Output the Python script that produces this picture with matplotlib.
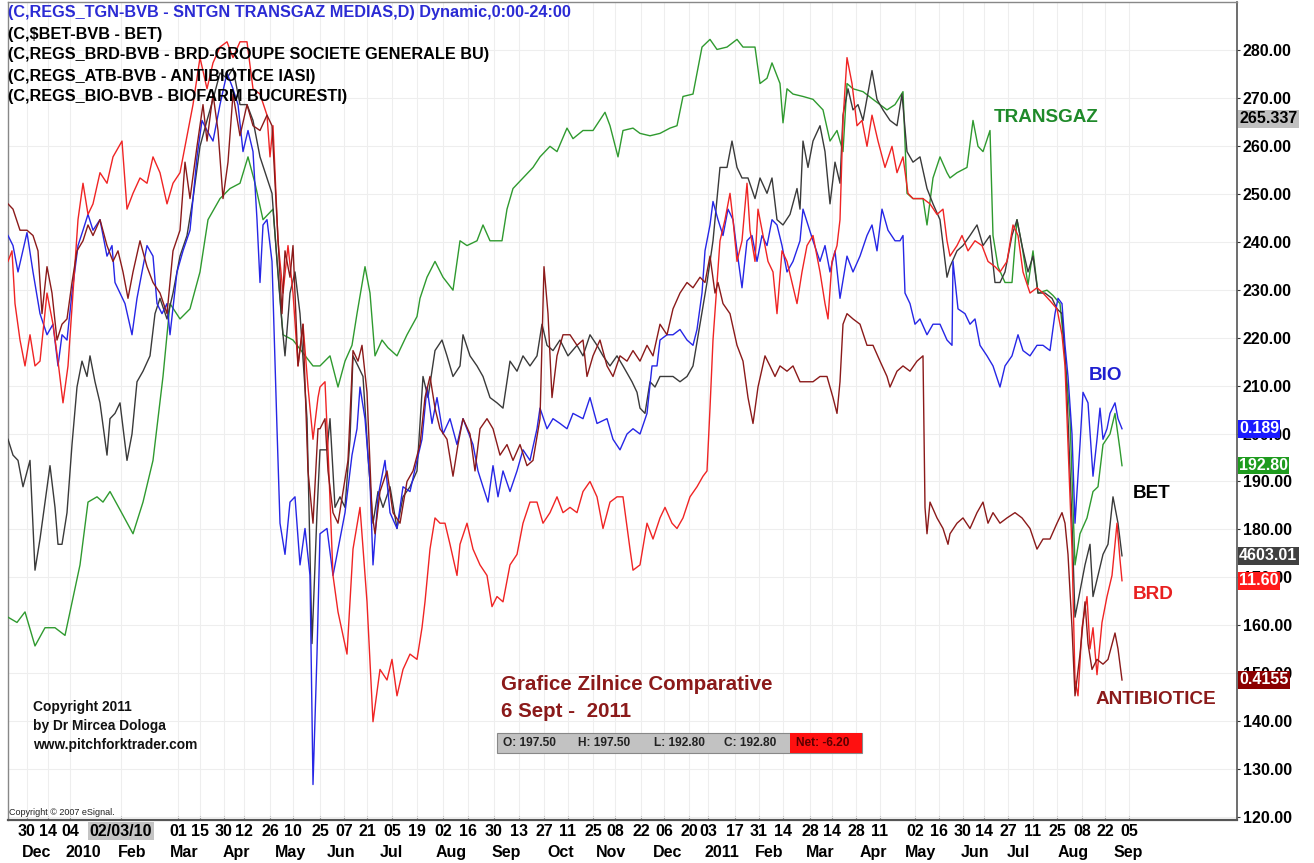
import matplotlib
matplotlib.use("Agg")
import matplotlib.pyplot as plt
from matplotlib.patches import Rectangle
from matplotlib.transforms import blended_transform_factory

plt.rcParams['font.family'] = ['Liberation Sans', 'DejaVu Sans']

# ── Datos (t = semanas aprox. desde fin nov 2009, valores normalizados) ──────
transgaz_t = [0, 0.9, 1.7, 2.7, 3.7, 4.7, 5.7, 6.2, 7.2, 8.0, 8.9, 9.5, 10.2, 11.2, 12.5, 13.5, 14.5, 15.5,
              16.2, 17.2, 18.2, 19.2, 20.0, 21.2, 22.2, 23.2, 24.0, 24.7, 25.5, 26.5, 27.5, 28.5, 30.5,
              31.2, 32.2, 33.0, 33.7, 34.4, 34.9, 35.7, 36.2, 36.7, 37.4, 38.0, 38.9, 39.9, 40.9, 41.2,
              41.9, 42.7, 43.5, 44.5, 45.2, 45.9, 46.9, 47.5, 48.2, 49.4, 49.9, 50.5, 51.5, 52.5, 53.2,
              54.2, 54.9, 55.9, 56.5, 57.5, 58.5, 59.7, 60.2, 61.0, 61.5, 62.5,
              63.2, 64.2, 65.2, 66.2, 66.9, 67.5, 68.5, 69.4, 70.2, 70.9, 71.9, 72.9, 73.5, 74.7, 75.2,
              75.9, 76.4, 77.2, 77.5, 77.9, 78.5, 79.5, 80.5, 81.5, 82.2, 82.9, 83.5, 83.9, 84.5, 85.5,
              86.5, 87.9, 88.7, 89.5, 89.9, 90.5, 91.5, 91.9, 92.5, 93.2, 93.9,
              94.2, 94.9, 95.9, 96.5, 97.0, 97.5, 98.2, 98.5, 99.0, 99.7, 100.4, 100.9, 101.4, 102.0,
              102.5, 103.0, 103.9, 104.5, 105.2, 105.7, 106.2, 106.7, 107.2, 107.9, 108.5, 109.0, 109.5,
              110.2, 110.7, 111.2, 111.4]
transgaz = [161.7, 160.6, 162.8, 155.7, 159.5, 159.5, 157.9, 162.8, 172.6, 185.7, 186.8, 185.7, 187.9, 184.1,
            179.1, 185.7, 194.4, 211.9, 227.1, 223.9, 226.0, 233.7, 244.6, 249.0, 251.1, 252.2, 257.7, 252.2,
            244.6, 246.8, 220.6, 219.5, 214.1,
            214.1, 216.2, 209.7, 215.1, 218.4, 225.0, 234.8, 229.3, 216.2, 219.5, 217.9, 216.2, 220.6, 224.4,
            228.2, 232.6, 235.9, 232.6, 229.9, 240.2, 239.2, 240.2, 243.5, 240.2, 240.2, 246.8, 251.1, 253.3,
            255.5, 257.7, 259.9, 258.8, 263.7, 261.5, 263.2, 263.2, 267.0, 264.2, 257.7, 263.2, 263.7,
            262.6, 262.1, 262.6, 263.7, 264.2, 270.3, 270.8, 280.6, 282.2, 280.1, 280.6, 282.2, 280.6, 280.6,
            273.0, 274.1, 277.3, 273.0, 264.8, 271.9, 270.8, 270.3, 269.7, 267.5, 261.0, 263.2, 258.8, 273.0,
            271.9, 271.3, 269.7, 267.5, 268.6, 271.3, 250.1, 249.0, 249.0, 243.5, 253.3, 257.7, 254.4,
            253.3, 254.4, 255.5, 265.3, 259.9, 258.8, 263.2, 241.3, 234.8, 231.5, 231.5, 244.6, 239.2, 231.0,
            238.1, 229.3, 229.9, 228.8, 227.1, 216.2, 203.1, 172.6, 179.1, 182.4, 187.9, 188.9, 197.7, 199.9,
            204.2, 196.6, 193.3]

bio_t = [0, 0.5, 1.0, 1.9, 2.5, 3.2, 3.9, 4.5, 5.0, 5.4, 5.9, 6.4, 7.0, 7.5, 8.0, 8.5, 9.2, 9.9, 10.4, 10.7,
         11.2, 11.7, 12.4, 12.9, 13.4, 13.9, 14.5, 14.9, 15.4, 15.9, 16.2, 16.9, 17.5, 18.2, 18.9, 19.4,
         19.9, 20.5, 21.2, 21.9, 22.5, 23.0, 23.5, 24.0, 24.5, 24.9, 25.2, 25.5, 25.9, 26.4, 26.9, 27.2,
         27.7, 28.2, 28.7, 29.2, 29.7, 30.2, 30.5, 30.9,
         31.2, 31.9, 32.5, 33.0, 33.7, 34.4, 34.9, 35.2, 35.7, 36.2, 36.5, 37.0, 37.7, 38.2, 38.9, 39.5,
         40.2, 40.9, 41.4, 41.9, 42.4, 42.9, 43.5, 44.2, 44.9, 45.5, 46.5, 47.0, 47.5, 48.0, 48.5, 49.0,
         49.5, 50.2, 50.9, 51.5, 52.2, 52.9, 53.2, 53.9, 54.5, 55.2, 55.9, 56.5, 57.5, 58.2, 58.9, 59.9,
         60.5, 61.2, 61.9, 62.5,
         63.2, 63.9, 64.4, 64.9, 65.2, 65.9, 66.5, 67.2, 67.9, 68.5, 68.9, 69.4, 69.7, 70.2, 70.5, 71.0,
         71.5, 72.0, 72.5, 72.9, 73.4, 73.9, 74.4, 74.9, 75.4, 75.9, 76.4, 76.9, 77.4, 77.9, 78.5, 79.2,
         79.5, 80.0, 80.5, 81.2, 81.7, 82.2, 82.7, 83.2, 83.9, 84.5, 85.2, 85.9, 86.4, 86.9, 87.4, 88.0,
         88.7, 89.2, 89.5, 89.7, 90.2, 90.7, 91.2, 91.9, 92.5, 93.2, 93.9, 94.4,
         94.5, 95.0, 95.7, 96.2, 96.7, 97.2, 97.9, 98.5, 99.2, 99.7, 100.4, 101.0, 101.5, 102.2, 102.9,
         103.5, 104.2, 104.7, 105.0, 105.4, 105.7, 106.0, 106.4, 106.7, 107.2, 107.5, 108.0, 108.5,
         108.9, 109.2, 109.5, 109.9, 110.2, 110.7, 111.0, 111.4]
bio = [241.3, 239.2, 233.7, 241.9, 233.7, 225.0, 220.6, 222.8, 214.1, 220.6, 219.5, 229.3, 239.2, 242.4,
       245.7, 242.4, 244.6, 237.0, 239.2, 231.5, 229.3, 227.1, 220.6, 228.2, 233.7, 239.2, 237.0, 227.1,
       225.0, 227.1, 220.6, 233.7, 238.1, 242.4, 257.7, 265.3, 263.2, 261.0, 268.6, 275.2, 271.9, 268.6,
       258.8, 263.2, 258.8, 244.6, 231.5, 243.5, 244.6, 235.9, 201.0, 181.3, 174.8, 185.7, 186.8, 172.6,
       180.2, 170.4, 126.8, 154.0,
       179.1, 180.2, 170.4, 175.9, 183.5, 195.5, 201.0, 209.7, 203.1, 190.0, 172.6, 186.8, 194.4, 183.5,
       180.2, 188.9, 187.9, 194.4, 198.8, 209.7, 202.1, 207.5, 199.9, 203.1, 197.7, 203.1, 197.7, 192.2,
       188.9, 185.7, 193.3, 186.8, 192.2, 187.9, 192.2, 196.6, 194.4, 201.0, 205.3, 201.0, 203.1, 202.1,
       201.0, 204.2, 203.1, 207.5, 202.1, 203.1, 198.8, 196.6, 199.9, 201.0,
       199.9, 204.2, 214.1, 214.1, 219.5, 220.6, 220.6, 221.7, 219.5, 218.4, 221.7, 229.3, 238.1, 243.5,
       248.4, 244.6, 241.3, 246.8, 244.6, 238.1, 230.4, 240.2, 241.3, 235.9, 241.3, 239.2, 244.6, 243.5,
       239.2, 233.7, 235.9, 240.2, 246.8, 243.5, 240.2, 235.9, 239.2, 233.7, 238.1, 228.2, 237.0, 233.7,
       237.0, 241.3, 243.5, 238.1, 246.8, 242.4, 240.2, 240.2, 241.3, 229.3, 227.1, 222.8, 223.9, 220.6,
       222.8, 222.8, 219.5, 218.4,
       235.9, 226.0, 225.0, 222.8, 223.9, 218.4, 216.2, 214.1, 209.7, 214.1, 216.2, 220.6, 217.3, 216.2,
       218.4, 218.4, 217.3, 225.0, 228.2, 227.1, 218.4, 211.9, 199.9, 181.3, 197.7, 208.6, 206.4, 191.1,
       198.8, 205.3, 198.8, 201.0, 204.2, 206.4, 203.1, 201.0]

bet_t = [0, 0.5, 1.0, 1.5, 2.2, 2.7, 3.2, 3.7, 4.2, 4.7, 5.0, 5.4, 5.9, 6.4, 6.9, 7.4, 7.9, 8.2, 8.7, 9.2,
         9.9, 10.2, 10.7, 11.2, 11.9, 12.4, 12.9, 13.5, 14.2, 14.7, 15.2, 15.9, 16.5, 17.2, 17.9, 18.5,
         19.2, 19.9, 20.5, 21.2, 21.9, 22.5, 23.2, 23.9, 24.5, 25.2, 25.9, 26.4, 26.9, 27.4, 27.7, 28.2,
         28.7, 29.2, 29.9, 30.4, 30.9,
         31.2, 31.9, 32.2, 32.7, 33.2, 33.7, 34.2, 34.5, 35.0, 35.5, 36.0, 36.5, 37.0, 37.5, 38.2, 38.9,
         39.5, 40.2, 40.9, 41.5, 42.0, 42.7, 43.4, 43.9, 44.5, 45.2, 45.5, 46.2, 46.9, 47.5, 48.2, 48.9,
         49.5, 50.2, 50.9, 51.5, 52.2, 52.9, 53.4, 53.9, 54.5, 55.2, 56.0, 56.9, 57.5, 58.2, 58.9, 59.5,
         60.2, 60.9, 61.5, 62.4, 62.9,
         63.2, 63.7, 64.2, 64.7, 65.2, 65.9, 66.5, 67.2, 67.9, 68.5, 69.2, 69.9, 70.5, 71.2, 71.9, 72.4,
         72.9, 73.4, 74.0, 74.7, 75.2, 75.9, 76.4, 76.9, 77.5, 78.2, 78.9, 79.2, 79.5, 80.0, 80.5, 81.2,
         81.7, 82.2, 82.7, 83.2, 83.5, 84.0, 84.5, 85.0, 85.5, 86.4, 86.9, 87.5, 88.2, 88.9, 89.4, 89.9,
         90.5, 91.2, 91.9, 92.5, 93.2, 93.9,
         94.2, 94.9, 95.5, 96.2, 96.9, 97.5, 98.2, 98.7, 99.2, 99.7, 100.4, 100.9, 101.4, 102.0, 102.5,
         103.0, 103.7, 104.4, 104.9, 105.4, 105.7, 106.0, 106.4, 106.7, 107.2, 107.7, 108.2, 108.5,
         109.0, 109.5, 110.0, 110.5, 111.0, 111.4]
bet = [198.8, 195.5, 194.4, 188.9, 194.4, 171.5, 178.0, 185.7, 193.3, 184.6, 176.9, 176.9, 183.5, 197.7,
       209.7, 215.1, 211.9, 216.2, 210.8, 206.4, 195.5, 203.1, 204.2, 206.4, 194.4, 199.9, 210.8, 213.0,
       216.2, 225.0, 228.2, 223.9, 229.3, 237.0, 241.3, 249.0, 259.9, 265.3, 269.7, 275.2, 274.1, 276.2,
       268.6, 268.6, 265.3, 257.7, 253.3, 250.1, 235.9, 222.8, 216.2, 229.3, 233.7, 225.0, 203.1, 156.2,
       183.5,
       196.6, 196.6, 203.1, 184.6, 186.8, 184.6, 198.8, 216.2, 214.1, 211.9, 195.5, 181.3, 187.9, 184.6,
       188.9, 180.2, 186.8, 188.9, 192.2, 211.9, 207.5, 217.3, 219.5, 216.2, 211.9, 214.1, 220.6, 216.2,
       214.1, 211.9, 207.5, 206.4, 205.3, 215.1, 213.0, 216.2, 214.1, 216.2, 222.8, 218.4, 217.3, 219.5,
       216.2, 218.4, 216.2, 220.6, 218.4, 216.2, 214.1, 216.2, 214.1, 210.8, 208.6,
       205.3, 204.2, 210.8, 209.7, 211.9, 211.9, 211.9, 210.8, 211.9, 214.1, 222.8, 231.5, 240.2, 255.5,
       255.5, 261.0, 255.5, 253.3, 253.3, 249.0, 253.3, 250.1, 253.3, 244.6, 243.5, 245.7, 251.1, 246.8,
       261.0, 255.5, 261.0, 264.2, 258.8, 247.9, 256.6, 252.2, 266.4, 271.9, 267.5, 268.6, 265.3, 275.7,
       269.7, 267.5, 265.3, 264.2, 270.8, 258.8, 256.6, 257.7, 251.1, 247.9, 244.6, 232.6,
       234.8, 238.1, 239.2, 241.3, 243.5, 239.2, 241.3, 231.5, 231.5, 233.7, 241.3, 244.6, 239.2, 233.7,
       237.0, 229.3, 229.3, 228.2, 226.0, 225.0, 216.2, 203.1, 181.3, 161.7, 167.1, 172.6, 176.9, 166.0,
       170.4, 174.8, 176.9, 186.8, 181.3, 174.5]

brd_t = [0, 0.4, 0.7, 1.2, 1.7, 2.2, 2.7, 3.2, 3.9, 4.5, 5.0, 5.5, 6.0, 6.5, 7.0, 7.5, 8.0, 8.5, 9.2, 9.9,
         10.5, 11.4, 11.9, 12.5, 13.2, 13.9, 14.5, 15.2, 15.9, 16.5, 17.2, 17.9, 18.5, 19.2, 19.9, 20.5,
         21.2, 21.9, 22.5, 23.2, 23.9, 24.5, 25.2, 25.9, 26.2, 26.5, 27.0, 27.5, 28.0, 28.5, 29.0, 29.5,
         30.0, 30.5, 31.0,
         31.2, 31.7, 32.0, 32.5, 33.0, 33.9, 34.5, 35.2, 35.9, 36.5, 37.2, 37.9, 38.4, 38.9, 39.5, 40.2,
         40.9, 41.4, 41.7, 42.2, 42.7, 43.2, 43.7, 44.2, 44.9, 45.2, 45.9, 46.5, 47.2, 47.9, 48.4, 48.9,
         49.5, 50.2, 50.9, 51.5, 52.2, 52.9, 53.5, 54.2, 54.9, 55.5, 56.2, 56.9, 57.5, 58.2, 58.9, 59.5,
         60.2, 60.9, 61.5, 62.2, 62.5,
         63.2, 63.9, 64.5, 65.2, 65.7, 66.4, 66.9, 67.5, 68.2, 68.9, 69.5, 69.9, 70.2, 70.5, 70.9, 71.2,
         71.7, 72.2, 72.5, 72.9, 73.4, 73.9, 74.2, 74.7, 75.0, 75.5, 76.0, 76.5, 76.9, 77.4, 77.9, 78.4,
         78.9, 79.4, 79.9, 80.5, 81.2, 81.7, 82.0, 82.4, 82.9, 83.2, 83.5, 83.9, 84.4, 84.9, 85.4, 85.9,
         86.4, 87.0, 87.7, 88.4, 88.9, 89.5, 90.0, 90.5, 91.5, 92.2, 92.9, 93.5, 93.9,
         94.2, 94.9, 95.4, 96.0, 96.7, 97.4, 98.0, 98.7, 99.2, 99.9, 100.5, 101.0, 101.5, 102.2, 102.9,
         103.5, 104.2, 104.9, 105.4, 105.7, 106.0, 106.4, 106.7, 107.0, 107.4, 107.9, 108.2, 108.5,
         108.9, 109.4, 109.9, 110.4, 110.9, 111.2, 111.4]
brd = [235.9, 238.1, 227.1, 219.5, 214.1, 220.6, 214.1, 215.1, 229.3, 222.8, 215.1, 206.4, 214.1, 229.3,
       244.6, 252.2, 245.7, 247.9, 254.4, 252.2, 257.7, 261.0, 246.8, 250.1, 253.3, 252.2, 257.7, 254.4,
       247.9, 252.2, 254.4, 262.1, 268.6, 278.4, 271.9, 277.3, 280.6, 281.7, 278.4, 281.7, 281.7, 271.9,
       270.8, 266.4, 257.7, 264.2, 240.2, 229.3, 239.2, 229.3, 214.1, 222.8, 209.7, 198.8, 207.5,
       209.7, 210.8, 196.6, 170.4, 162.8, 154.0, 175.9, 184.6, 164.9, 139.9, 150.8, 148.6, 152.9, 145.3,
       150.8, 154.0, 152.9, 159.5, 164.9, 175.9, 182.4, 181.3, 181.3, 176.9, 170.4, 176.9, 181.3, 175.9,
       172.6, 170.4, 163.9, 166.0, 164.9, 172.6, 174.8, 181.3, 185.7, 185.7, 181.3, 183.5, 186.8, 183.5,
       184.6, 183.5, 187.9, 190.0, 186.8, 180.2, 185.7, 186.8, 186.8, 175.9, 171.5,
       172.6, 181.3, 178.0, 182.4, 184.6, 181.3, 180.2, 182.4, 186.8, 188.9, 191.1, 192.2, 205.3, 219.5,
       231.5, 240.2, 244.6, 250.1, 244.6, 235.9, 240.2, 252.2, 242.4, 235.9, 246.8, 241.3, 235.9, 233.7,
       225.0, 238.1, 235.9, 231.5, 227.1, 233.7, 239.2, 241.3, 233.7, 227.1, 223.9, 235.9, 239.2, 244.6,
       265.3, 278.4, 273.0, 264.2, 265.3, 259.9, 266.4, 261.0, 255.5, 259.9, 254.4, 257.7, 250.1, 249.0,
       249.0, 247.9, 245.7, 246.8, 240.2,
       237.0, 239.2, 241.3, 238.1, 240.2, 239.2, 235.9, 234.8, 233.7, 235.9, 243.5, 241.3, 233.7, 229.3,
       230.4, 229.3, 227.7, 226.0, 220.6, 214.1, 197.7, 175.9, 148.6, 145.3, 159.5, 166.0, 155.1, 159.5,
       149.7, 160.6, 166.0, 170.4, 181.3, 173.7, 169.3]

atb_t = [0, 0.5, 1.2, 1.9, 2.5, 3.0, 3.4, 3.9, 4.4, 4.9, 5.4, 5.9, 6.4, 6.9, 7.5, 8.0, 8.5, 9.2, 9.9, 10.5,
         11.0, 11.5, 12.0, 12.5, 13.2, 13.9, 14.5, 15.2, 15.9, 16.5, 17.2, 17.7, 18.2, 18.9, 19.5, 19.9,
         20.5, 21.0, 21.5, 22.0, 22.5, 23.2, 23.9, 24.5, 25.2, 25.9, 26.4, 26.9, 27.4, 27.7, 28.2, 28.5,
         29.0, 29.5, 30.0, 30.5, 31.0,
         31.2, 31.7, 32.0, 32.5, 33.0, 33.5, 34.0, 34.5, 35.0, 35.4, 35.9, 36.4, 36.7, 37.2, 37.9, 38.5,
         39.2, 39.9, 40.5, 41.2, 41.7, 42.2, 42.7, 43.2, 43.9, 44.5, 45.0, 45.5, 46.2, 46.7, 47.2, 47.9,
         48.5, 49.2, 49.9, 50.5, 51.2, 51.9, 52.5, 53.2, 53.6, 54.0, 54.4, 54.9, 55.5, 56.2, 56.9, 57.5,
         57.9, 58.5, 59.2, 59.9, 60.5, 61.2, 61.9, 62.5,
         63.2, 63.9, 64.5, 65.2, 65.9, 66.5, 67.2, 67.9, 68.5, 69.2, 69.7, 70.2, 70.7, 71.0, 71.5, 72.2,
         72.9, 73.5, 74.0, 74.5, 75.0, 75.7, 76.2, 76.7, 77.2, 77.9, 78.5, 79.2, 79.9, 80.5, 81.2, 81.9,
         82.5, 82.9, 83.2, 83.5, 83.9, 84.5, 85.2, 85.9, 86.5, 87.2, 87.9, 88.2, 88.9, 89.5, 90.2, 90.9,
         91.5, 91.7, 91.9, 92.2, 92.9, 93.5, 94.0,
         94.2, 94.9, 95.5, 96.2, 96.9, 97.5, 98.0, 98.5, 99.2, 99.9, 100.7, 101.4, 102.2, 102.9, 103.5,
         104.2, 104.9, 105.4, 105.7, 106.0, 106.4, 106.7, 107.2, 107.7, 108.0, 108.4, 108.9, 109.5,
         110.0, 110.7, 111.0, 111.4]
atb = [247.9, 246.8, 242.4, 242.4, 241.3, 238.1, 225.0, 234.8, 229.3, 219.5, 222.8, 223.9, 231.5, 238.1,
       240.2, 243.5, 241.3, 244.6, 239.2, 235.9, 238.1, 233.7, 228.2, 233.7, 240.2, 234.8, 231.5, 229.3,
       225.0, 238.1, 242.4, 256.6, 249.0, 259.9, 268.6, 261.0, 270.8, 263.2, 249.0, 256.6, 270.8, 262.1,
       268.6, 264.2, 263.2, 266.4, 264.2, 244.6, 225.0, 238.1, 232.6, 239.2, 214.1, 222.8, 192.2, 181.3,
       201.0,
       201.0, 203.1, 192.2, 183.5, 181.3, 187.9, 194.4, 217.3, 215.1, 218.4, 208.6, 183.5, 179.1, 187.9,
       192.2, 183.5, 181.3, 190.0, 192.2, 197.7, 207.5, 211.9, 205.3, 201.0, 198.8, 191.1, 197.7, 203.1,
       199.9, 192.2, 201.0, 203.1, 201.0, 195.5, 197.7, 194.4, 197.7, 193.3, 194.4, 203.1, 234.8, 225.0,
       207.5, 216.2, 220.6, 220.6, 218.4, 219.5, 211.9, 216.2, 219.5, 214.1, 211.9, 216.2, 215.1, 217.3,
       215.1, 218.4, 216.2, 222.8, 220.6, 226.0, 229.3, 231.5, 230.4, 232.6, 231.5, 237.0, 229.3, 231.5,
       227.1, 225.0, 218.4, 215.1, 207.5, 202.1, 209.7, 216.2, 214.1, 211.9, 214.1, 213.0, 214.1, 210.8,
       210.8, 210.8, 211.9, 211.9, 207.5, 204.2, 210.8, 222.8, 225.0, 223.9, 222.8, 218.4, 218.4, 215.1,
       211.9, 209.7, 213.0, 214.1, 213.0, 215.1, 216.2, 184.6, 179.1, 185.7, 182.4, 180.2, 176.9,
       179.1, 181.3, 182.4, 180.2, 183.5, 185.7, 181.3, 183.5, 181.3, 182.4, 183.5, 182.4, 180.2, 175.9,
       178.0, 178.0, 181.3, 183.5, 181.3, 174.8, 159.5, 145.3, 154.0, 164.9, 156.2, 150.8, 152.9, 151.9,
       152.9, 158.4, 155.1, 148.6]

# etiquetas eje X (dia / mes)
day_labels = ["30", "14", "04", "02/03/10", "01", "15", "30", "12", "26", "10", "25", "07", "21", "05",
              "19", "02", "16", "30", "13", "27", "11", "25", "08", "22", "06", "20", "03", "17", "31",
              "14", "28", "14", "28", "11", "02", "16", "30", "14", "27", "11", "25", "08", "22", "05"]
day_pos = [1.9, 4.0, 6.2, 11.3, 17.0, 19.2, 21.6, 23.6, 26.2, 28.5, 31.2, 33.6, 35.9, 38.4, 40.9, 43.5,
           46.0, 48.6, 51.1, 53.6, 56.0, 58.5, 60.7, 63.3, 65.6, 68.1, 70.0, 72.7, 75.1, 77.5, 80.2, 82.4,
           84.8, 87.2, 90.7, 93.1, 95.5, 97.6, 100.0, 102.5, 104.9, 107.4, 109.7, 112.1]
month_labels = ["Dec", "2010", "Feb", "Mar", "Apr", "May", "Jun", "Jul", "Aug", "Sep", "Oct", "Nov",
                "Dec", "2011", "Feb", "Mar", "Apr", "May", "Jun", "Jul", "Aug", "Sep"]
month_pos = [2.9, 7.5, 12.4, 17.6, 22.8, 28.2, 33.3, 38.3, 44.3, 49.8, 55.3, 60.3, 66.0, 71.4, 76.1,
             81.2, 86.5, 91.2, 96.7, 101.0, 106.5, 112.0]

# ── Colores ───────────────────────────────────────────────────────────────────
C_TGN = "#2f9a2f"
C_BIO = "#2626e6"
C_BET = "#3a3a3a"
C_BRD = "#f02424"
C_ATB = "#8b1a1a"

W, H = 1314, 863
fig = plt.figure(figsize=(W / 100, H / 100), dpi=100)
fig.patch.set_facecolor("white")
ax = fig.add_axes([8 / W, 1 - 820 / H, (1237 - 8) / W, (820 - 2) / H])


def px(x, y):
    return x / W, 1 - y / H


# ── Series ────────────────────────────────────────────────────────────────────
ax.plot(transgaz_t, transgaz, color=C_TGN, lw=1.0, zorder=3)
ax.plot(bet_t, bet, color=C_BET, lw=1.0, zorder=3)
ax.plot(bio_t, bio, color=C_BIO, lw=1.0, zorder=3)
ax.plot(brd_t, brd, color=C_BRD, lw=1.0, zorder=3)
ax.plot(atb_t, atb, color=C_ATB, lw=1.0, zorder=3)

ax.set_xlim(0, 122.9)
ax.set_ylim(119.4, 290.0)

# eje Y a la derecha
ax.yaxis.tick_right()
yt = list(range(120, 290, 10))
ax.set_yticks(yt)
ax.set_yticklabels([f"{v:.2f}" for v in yt], fontsize=11.5, fontweight="bold")
ax.tick_params(axis="y", length=2, pad=2, colors="#333333", labelcolor="black")

ax.set_xticks(day_pos)
ax.set_xticklabels([])
ax.tick_params(axis="x", length=3, direction="in", colors="#999999")
ax.grid(True, color="#eeeeee", lw=0.8, zorder=0)

for sp in ["left", "top"]:
    ax.spines[sp].set_color("#888888")
    ax.spines[sp].set_linewidth(1.0)
ax.spines["bottom"].set_color("#555555")
ax.spines["bottom"].set_linewidth(1.6)
ax.spines["right"].set_color("#555555")
ax.spines["right"].set_linewidth(1.2)

# etiquetas fecha
tr = blended_transform_factory(ax.transData, fig.transFigure)
for lab, p in zip(day_labels, day_pos):
    kw = {}
    if "/" in lab:
        kw["bbox"] = dict(boxstyle="square,pad=0.12", facecolor="#c4c4c4", edgecolor="none")
    ax.text(p, 1 - 831 / H, lab, transform=tr, ha="center", va="center",
            fontsize=11.5, fontweight="bold", clip_on=False, **kw)
for lab, p in zip(month_labels, month_pos):
    ax.text(p, 1 - 852 / H, lab, transform=tr, ha="center", va="center",
            fontsize=11.5, fontweight="bold", clip_on=False)

# ── Leyenda superior ─────────────────────────────────────────────────────────
leyenda = [
    ("(C,REGS_TGN-BVB - SNTGN TRANSGAZ MEDIAS,D) Dynamic,0:00-24:00", "#2b2bd4"),
    ("(C,$BET-BVB - BET)", "black"),
    ("(C,REGS_BRD-BVB - BRD-GROUPE SOCIETE GENERALE BU)", "black"),
    ("(C,REGS_ATB-BVB - ANTIBIOTICE IASI)", "black"),
    ("(C,REGS_BIO-BVB - BIOFARM BUCURESTI)", "black"),
]
for i, (txt, col) in enumerate(leyenda):
    fig.text(*px(8, 13 + i * 21), txt, color=col, fontsize=11.7, fontweight="bold",
             ha="left", va="center", zorder=10)

# ── Etiquetas de series ──────────────────────────────────────────────────────
fig.text(*px(1046, 117), "TRANSGAZ", color="#1f8a2a", fontsize=13.6, fontweight="bold", ha="center", va="center")
fig.text(*px(1105, 376), "BIO", color="#2020d0", fontsize=13.6, fontweight="bold", ha="center", va="center")
fig.text(*px(1152, 493), "BET", color="black", fontsize=13.6, fontweight="bold", ha="center", va="center")
fig.text(*px(1153, 594), "BRD", color="#e82020", fontsize=13.6, fontweight="bold", ha="center", va="center")
fig.text(*px(1156, 700), "ANTIBIOTICE", color=C_ATB, fontsize=13.6, fontweight="bold", ha="center", va="center")

fig.text(*px(501, 684), "Grafice Zilnice Comparative", color=C_ATB, fontsize=14.8,
         fontweight="bold", ha="left", va="center")
fig.text(*px(501, 711), "6 Sept -  2011", color=C_ATB, fontsize=14.8,
         fontweight="bold", ha="left", va="center")

# barra OHLC
x0, y0 = px(497, 753)
x1, y1 = px(862, 733)
fig.patches.append(Rectangle((x0, y0), x1 - x0, y1 - y0, transform=fig.transFigure,
                             facecolor="#c2c2c2", edgecolor="#888888", lw=0.8, zorder=5))
xr, _ = px(790, 0)
fig.patches.append(Rectangle((xr, y0), x1 - xr, y1 - y0, transform=fig.transFigure,
                             facecolor="#ff1010", edgecolor="none", zorder=6))
for xx, s in [(503, "O: 197.50"), (578, "H: 197.50"), (654, "L: 192.80"), (724, "C: 192.80")]:
    fig.text(*px(xx, 743), s, fontsize=8.6, fontweight="bold", color="#222222", ha="left", va="center", zorder=7)
fig.text(*px(796, 743), "Net: -6.20", fontsize=8.6, fontweight="bold", color="#5a0000", ha="left", va="center", zorder=7)

# copyright
for i, s in enumerate(["Copyright 2011", "by Dr Mircea Dologa", "www.pitchforktrader.com"]):
    fig.text(*px(33, 707 + i * 19), s, fontsize=9.9, fontweight="bold", color="#111111", ha="left", va="center")
fig.text(*px(9, 812), "Copyright \u00a9 2007 eSignal.", fontsize=6.5, color="#222222", ha="left", va="center")

# ── Marcadores ultimo valor (eje derecho) ────────────────────────────────────
trm = blended_transform_factory(fig.transFigure, ax.transData)
marcas = [
    (265.6, "265.337", "#c0c0c0", "black"),
    (bio[-1], "0.189", "#1a1aff", "white"),
    (transgaz[-1], "192.80", "#1e9b1e", "white"),
    (bet[-1], "4603.01", "#404040", "white"),
    (brd[-1], "11.60", "#ff1a1a", "white"),
    (atb[-1], "0.4155", "#8b0000", "white"),
]
for v, s, bg, fg in marcas:
    ax.text(1239 / W, v, s, transform=trm, fontsize=11.5, fontweight="bold", color=fg,
            ha="left", va="center", clip_on=False, zorder=10,
            bbox=dict(boxstyle="square,pad=0.08", facecolor=bg, edgecolor="none"))

fig.savefig("out.png", dpi=100, facecolor="white")
